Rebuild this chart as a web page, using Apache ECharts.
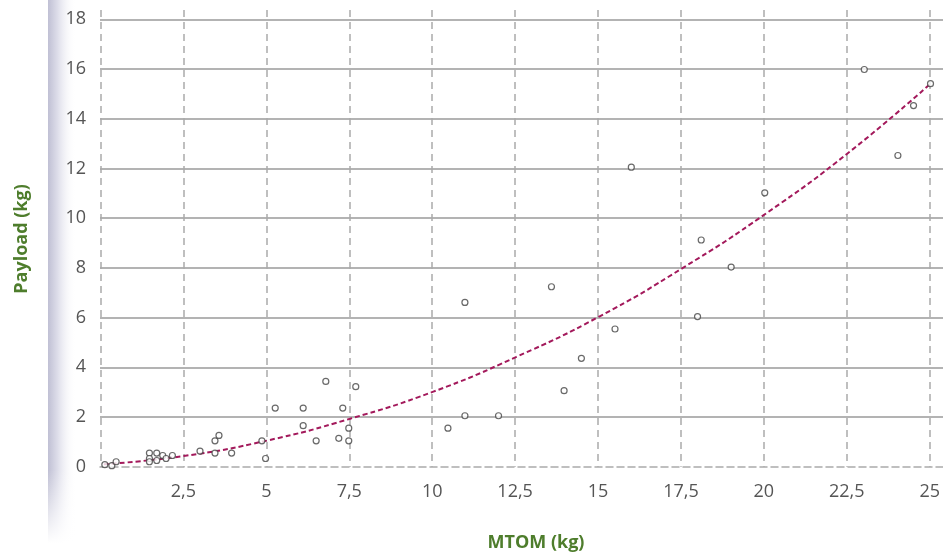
<!DOCTYPE html>
<html>
<head>
<meta charset="utf-8">
<script src="https://cdn.jsdelivr.net/npm/echarts@6/dist/echarts.min.js"></script>
<style>
html,body{margin:0;padding:0;background:#fff;}
#c{width:943px;height:556px;}
</style>
</head>
<body>
<div id="c"></div>
<script>
// MTOM (kg) and payload (kg) of each aircraft
const mtom = [0.13,0.34,0.47,1.47,1.47,1.47,1.69,1.69,1.87,1.97,2.16,2.99,3.44,3.56,3.44,3.94,4.85,4.96,5.25,6.09,6.09,6.48,6.77,7.16,7.28,7.46,7.46,7.67,10.44,10.95,10.95,11.96,13.55,13.93,14.45,15.46,15.95,17.94,18.05,18.95,19.96,22.95,23.96,24.43,24.94];
const payload = [0.08,0.04,0.2,0.55,0.33,0.2,0.55,0.25,0.45,0.33,0.45,0.63,1.04,1.26,0.55,0.55,1.04,0.33,2.36,2.36,1.65,1.04,3.43,1.14,2.36,1.55,1.04,3.22,1.55,2.05,6.61,2.05,7.24,3.06,4.36,5.54,12.05,6.04,9.12,8.03,11.02,15.98,12.52,14.53,15.41];
// trend line
const trendX = [0.1,2.5,5,7.5,10,12.5,15,17.5,20,22.5,24.94];
const trendY = [0.1,0.43,1.05,1.93,3.02,4.42,6.05,8.0,10.19,12.66,15.41];
const xTitle = 'MTOM (kg)';
const yTitle = 'Payload (kg)';

const chart = echarts.init(document.getElementById('c'), null, {renderer:'canvas'});
const green = '#4e7d2c';
const labelFont = {color:'#555', fontSize:18, fontFamily:'Open Sans'};
chart.setOption({
  animation:false,
  backgroundColor:'#fff',
  graphic:[
    {type:'rect', z:-10, shape:{x:48,y:0,width:28,height:556},
     style:{fill:new echarts.graphic.LinearGradient(0,0,1,0,[
       {offset:0,color:'rgba(192,192,212,1)'},
       {offset:0.35,color:'rgba(222,222,234,1)'},
       {offset:1,color:'rgba(255,255,255,0)'}])}},
    {type:'rect', z:-9, shape:{x:40,y:470,width:40,height:86},
     style:{fill:new echarts.graphic.LinearGradient(0,0,0,1,[
       {offset:0,color:'rgba(255,255,255,0)'},
       {offset:0.85,color:'rgba(255,255,255,1)'},
       {offset:1,color:'rgba(255,255,255,1)'}])}},
    {type:'text', x:22, y:239, rotation:Math.PI/2,
     style:{text:yTitle, fill:green, font:'bold 18px "Open Sans"', textAlign:'center', textVerticalAlign:'middle'}},
    {type:'text', x:536, y:543,
     style:{text:xTitle, fill:green, font:'bold 18px "Open Sans"', textAlign:'center', textVerticalAlign:'middle'}}
  ],
  grid:[
    {left:100, right:0, top:19.3, bottom:89.3},
    {left:100.5, right:10.5, top:10, bottom:89.3},
    {left:100.5, right:10.5, top:19.3, bottom:89.3}
  ],
  xAxis:[
    {gridIndex:0, type:'value', min:0, max:1,
     axisLine:{show:true, lineStyle:{color:'#aaa', width:1.5, type:[7,4]}},
     axisTick:{show:false}, axisLabel:{show:false}, splitLine:{show:false}},
    {gridIndex:1, type:'value', min:0, max:25, interval:2.5,
     axisLine:{show:false}, axisTick:{show:false},
     axisLabel:Object.assign({margin:16, showMinLabel:false,
       formatter:v => v === 0 ? '' : String(v).replace('.', ',')}, labelFont),
     splitLine:{show:true, lineStyle:{color:'#aaa', width:1.5, type:[7,5]}}},
    {gridIndex:2, type:'value', min:0, max:25, show:false}
  ],
  yAxis:[
    {gridIndex:0, type:'value', min:0, max:18, interval:2,
     axisLine:{show:false}, axisTick:{show:false},
     axisLabel:Object.assign({margin:14}, labelFont),
     splitLine:{show:true, showMinLine:false, lineStyle:{color:'#9a9a9a', width:1.5}}},
    {gridIndex:1, type:'value', min:0, max:1, show:false},
    {gridIndex:2, type:'value', min:0, max:18, show:false}
  ],
  series:[
    {type:'line', xAxisIndex:2, yAxisIndex:2, smooth:true, symbol:'none',
     data:trendX.map((x,i)=>[x,trendY[i]]),
     lineStyle:{color:'#a3195b', width:2, type:[5,3]}, z:3},
    {type:'scatter', xAxisIndex:2, yAxisIndex:2, symbol:'circle', symbolSize:6,
     data:mtom.map((x,i)=>[x,payload[i]]),
     itemStyle:{color:'#fff', borderColor:'#444', borderWidth:1.2}, z:4}
  ]
});
</script>
</body>
</html>
